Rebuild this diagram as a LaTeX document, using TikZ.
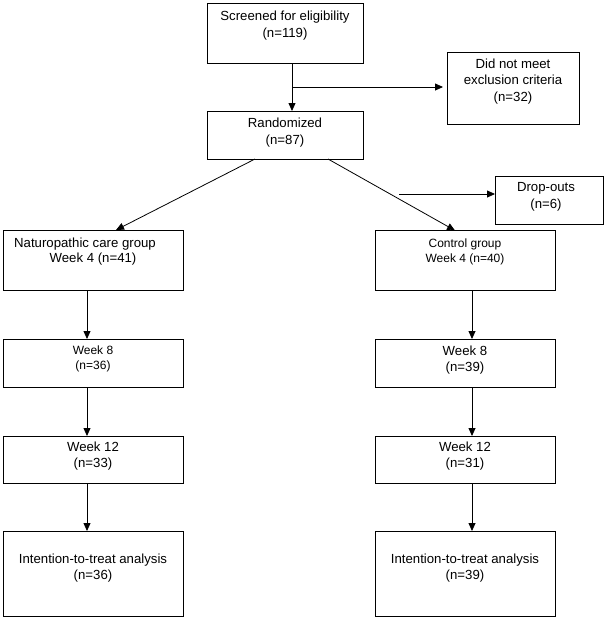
\documentclass[tikz,border=0pt]{standalone}
\usepackage{fontspec}
\setmainfont{Liberation Sans}
\usetikzlibrary{arrows.meta,calc}
\tikzset{
  box/.style={draw, line width=0.9pt, inner sep=0pt, outer sep=0pt},
  lbl/.style={inner sep=0pt, align=center, font=\fontsize{13.2}{16.5}\selectfont},
  lblsmall/.style={inner sep=0pt, align=center, font=\fontsize{12}{15}\selectfont},
  arr/.style={line width=0.8pt, -{Triangle[length=8pt,width=7pt]}},
  conn/.style={line width=0.8pt}
}
\begin{document}
\begin{tikzpicture}[x=1pt,y=-1pt]
\useasboundingbox (0,0) rectangle (607,619);
% boxes
\node[box, minimum width=156, minimum height=60] (scr) at (285,33) {};
\node[box, minimum width=132, minimum height=72] (exc) at (513,88) {};
\node[box, minimum width=156, minimum height=48] (ran) at (285,135) {};
\node[box, minimum width=108, minimum height=48] (drop) at (549,200) {};
\node[box, minimum width=180, minimum height=60] (nat) at (93,260) {};
\node[box, minimum width=180, minimum height=60] (ctl) at (465,260.5) {};
\node[box, minimum width=180, minimum height=48] (w8l) at (93,363) {};
\node[box, minimum width=180, minimum height=48] (w8r) at (465,363) {};
\node[box, minimum width=180, minimum height=47] (w12l) at (93,459.5) {};
\node[box, minimum width=180, minimum height=47] (w12r) at (465,459.5) {};
\node[box, minimum width=180, minimum height=85] (itl) at (93,573.5) {};
\node[box, minimum width=180, minimum height=85] (itr) at (465,573.5) {};
% labels
\node[lbl] (tscr) at (285,25.5) {Screened for eligibility\\(n=119)};
\node[lbl] (texc) at (513,81.5) {Did not meet\\exclusion criteria\\(n=32)};
\node[lbl] (tran) at (285,132.5) {Randomized\\(n=87)};
\node[lbl] (tdrop) at (546,197) {Drop-outs\\(n=6)};
\node[lbl, anchor=west] (tnat1) at (14,244.5) {Naturopathic care group};
\node[lbl] (tnat2) at (93,259.5) {Week 4 (n=41)};
\node[lblsmall] (tctl) at (465,251.5) {Control group\\Week 4 (n=40)};
\node[lblsmall, font=\fontsize{12}{14.5}\selectfont] (tw8l) at (93,359) {Week 8\\(n=36)};
\node[lbl] (tw8r) at (465,360) {Week 8\\(n=39)};
\node[lbl] (tw12l) at (93,456) {Week 12\\(n=33)};
\node[lbl] (tw12r) at (465,456) {Week 12\\(n=31)};
\node[lbl] (titl) at (93,568) {Intention-to-treat analysis\\(n=36)};
\node[lbl] (titr) at (465,568) {Intention-to-treat analysis\\(n=39)};
% connectors
\coordinate (j) at (292,87);
\draw[arr] (j |- scr.south) -- (j |- ran.north);
\draw[arr, shorten >=4pt] (j) -- (j -| exc.west);
\draw[arr] ($(ran.south)+(-30,0)$) -- ($(nat.north)+(23,0)$);
\draw[arr] ($(ran.south)+(43,0)$) -- ($(ctl.north)+(-10,0)$);
\coordinate (d) at (399,194);
\draw[arr] (d) -- (d -| drop.west);
\coordinate (lc) at (87,0);
\coordinate (rc) at (472,0);
\draw[arr] (lc |- nat.south) -- (lc |- w8l.north);
\draw[arr] (lc |- w8l.south) -- (lc |- w12l.north);
\draw[arr] (lc |- w12l.south) -- (lc |- itl.north);
\draw[arr] (rc |- ctl.south) -- (rc |- w8r.north);
\draw[arr] (rc |- w8r.south) -- (rc |- w12r.north);
\draw[arr] (rc |- w12r.south) -- (rc |- itr.north);
\end{tikzpicture}
\end{document}
